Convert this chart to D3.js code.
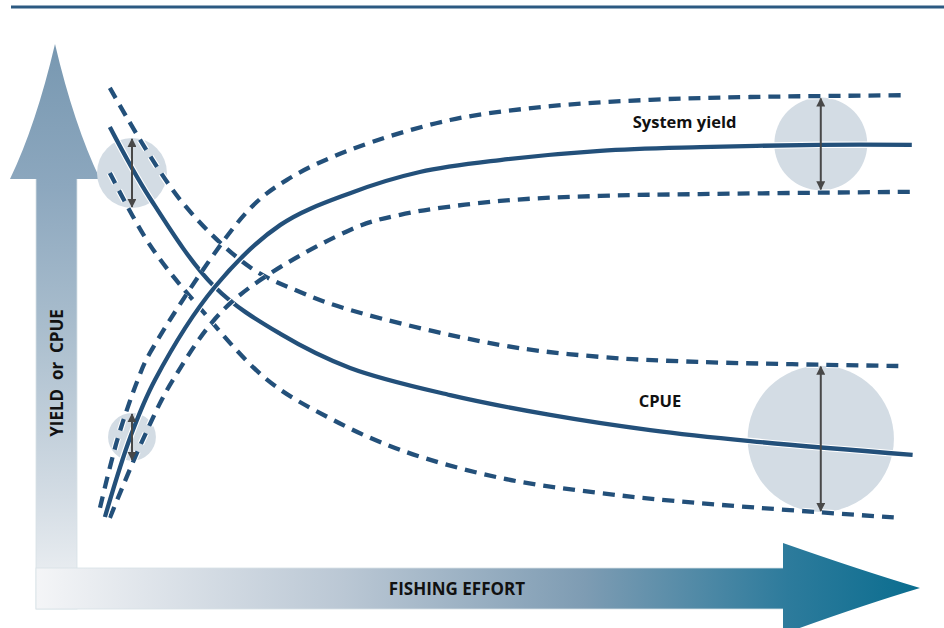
<!DOCTYPE html>
<html>
<head>
<meta charset="utf-8">
<script src="https://cdn.jsdelivr.net/npm/d3@7"></script>
<style>
  body { margin: 0; background: #fff; }
  text { font-family: "Open Sans", sans-serif; font-weight: 700; fill: #111; }
</style>
</head>
<body>
<div id="chart"></div>
<script>
// effort (0-100) , value (0-100)
var yieldUpper = [[0.0,7.0],[2.1,21.7],[4.6,34.8],[6.1,40.7],[17.9,71.3],[22.8,78.3],[30.5,84.8],[42.7,91.3],[54.9,94.3],[67.1,95.7],[79.3,96.3],[98.5,96.7]]
var yieldMid = [[0.6,5.0],[3.7,22.4],[6.7,34.8],[14.0,55.0],[22.0,68.5],[30.5,75.4],[39.0,80.0],[48.8,82.6],[61.0,84.6],[73.2,85.4],[87.8,85.9],[99.0,85.9]]
var yieldLower = [[1.2,4.8],[5.2,21.7],[8.9,34.8],[15.9,51.5],[30.5,67.4],[36.6,70.7],[48.8,73.7],[61.0,74.8],[73.2,75.2],[99.1,75.7]]
var cpueUpper = [[1.2,98.3],[9.8,73.9],[18.3,59.3],[24.4,53.9],[30.5,50.0],[48.8,42.4],[61.0,39.8],[73.2,38.7],[98.2,37.8]]
var cpueMid = [[1.2,89.8],[6.1,74.3],[14.0,55.0],[22.0,44.8],[30.5,37.4],[42.7,31.5],[54.9,27.2],[67.1,23.9],[79.3,21.5],[99.1,18.5]]
var cpueLower = [[1.2,79.8],[6.1,64.1],[12.2,50.4],[20.4,34.8],[28.0,26.5],[36.6,19.6],[48.8,13.5],[61.0,10.2],[73.2,8.0],[97.6,4.8]]

// variance circles: effort, value, half spread
var spreadPoints = [[3.9,79.8,7.6],[3.9,22.4,5.2],[87.9,86.1,10.1],[87.9,22.0,15.9]]

var curveLabels = [["System yield",71.3,89.5],["CPUE",68.3,29.0]]
var axisLabels = ["YIELD  or  CPUE", "FISHING EFFORT"]

var W = 944, H = 628
var lineColor = "#23507a"

var svg = d3.select("#chart").append("svg")
    .attr("width", W)
    .attr("height", H)

var x = d3.scaleLinear().domain([0, 100]).range([100, 920])
var y = d3.scaleLinear().domain([0, 100]).range([540, 80])

var defs = svg.append("defs")

var gx = defs.append("linearGradient").attr("id", "gx")
    .attr("gradientUnits", "userSpaceOnUse")
    .attr("x1", 36).attr("y1", 0).attr("x2", 920).attr("y2", 0)
gx.selectAll("stop")
    .data([[0,"#f4f5f7"],[0.35,"#bac7d4"],[0.62,"#7e9cb3"],[0.85,"#2d7b9c"],[1,"#0a6d8f"]])
    .enter().append("stop")
    .attr("offset", d => d[0]).attr("stop-color", d => d[1])

var gy = defs.append("linearGradient").attr("id", "gy")
    .attr("gradientUnits", "userSpaceOnUse")
    .attr("x1", 0).attr("y1", 44).attr("x2", 0).attr("y2", 609)
gy.selectAll("stop")
    .data([[0,"#7898b1"],[0.25,"#8ca7be"],[0.5,"#a9bdcd"],[0.8,"#d3dce4"],[1,"#f2f4f6"]])
    .enter().append("stop")
    .attr("offset", d => d[0]).attr("stop-color", d => d[1])

// top rule
svg.append("line")
    .attr("x1", 11).attr("x2", W).attr("y1", 7).attr("y2", 7)
    .attr("stroke", "#2c5a82").attr("stroke-width", 3)

// y axis arrow
svg.append("rect")
    .attr("x", 36).attr("y", 176).attr("width", 41).attr("height", 433)
    .attr("fill", "url(#gy)").attr("stroke", "#d8e0e7").attr("stroke-width", 0.8)
svg.append("path")
    .attr("d", "M10,179 Q36,125 55,44 Q74,125 100,179 Z")
    .attr("fill", "url(#gy)")

// x axis arrow
svg.append("rect")
    .attr("x", 36).attr("y", 568).attr("width", 752).attr("height", 41)
    .attr("fill", "url(#gx)").attr("stroke", "#d8e0e7").attr("stroke-width", 0.8)
svg.append("path")
    .attr("d", "M783,543 Q860,570 920,588 Q860,606 783,634 Z")
    .attr("fill", "url(#gx)")

svg.append("text")
    .attr("transform", "translate(63,373) rotate(-90)")
    .attr("text-anchor", "middle")
    .style("font-size", "17px")
    .style("white-space", "pre")
    .attr("xml:space", "preserve")
    .text(axisLabels[0])

svg.append("text")
    .attr("x", 457).attr("y", 595)
    .attr("text-anchor", "middle")
    .style("font-size", "17px")
    .text(axisLabels[1])

// circles behind curves
svg.append("g").selectAll("circle")
    .data(spreadPoints)
    .enter().append("circle")
    .attr("cx", d => x(d[0]))
    .attr("cy", d => y(d[1]))
    .attr("r", d => y(0) - y(d[2]))
    .attr("fill", "#d3dce4")

var line = d3.line()
    .x(d => x(d[0]))
    .y(d => y(d[1]))
    .curve(d3.curveCatmullRom.alpha(0.5))

var series = [
    [cpueUpper, true], [cpueLower, true], [cpueMid, false],
    [yieldUpper, true], [yieldLower, true], [yieldMid, false]
]

var curves = svg.append("g")
series.forEach(function(s) {
    curves.append("path")
        .datum(s[0])
        .attr("d", line)
        .attr("fill", "none")
        .attr("stroke", "#fff")
        .attr("stroke-width", 6.5)
        .attr("stroke-dasharray", s[1] ? "12,8" : null)
    curves.append("path")
        .datum(s[0])
        .attr("d", line)
        .attr("fill", "none")
        .attr("stroke", lineColor)
        .attr("stroke-width", 4.3)
        .attr("stroke-dasharray", s[1] ? "12,8" : null)
})

// double headed arrows
defs.append("marker").attr("id", "ah")
    .attr("viewBox", "0 0 10 10").attr("refX", 9).attr("refY", 5)
    .attr("markerWidth", 4.5).attr("markerHeight", 4.5)
    .attr("orient", "auto-start-reverse")
    .append("path").attr("d", "M0,0 L10,5 L0,10 Z").attr("fill", "#484848")

svg.append("g").selectAll("line")
    .data(spreadPoints)
    .enter().append("line")
    .attr("x1", d => x(d[0])).attr("x2", d => x(d[0]))
    .attr("y1", d => y(d[1] + d[2]) + 1)
    .attr("y2", d => y(d[1] - d[2]) - 1)
    .attr("stroke", "#484848")
    .attr("stroke-width", 2)
    .attr("marker-start", "url(#ah)")
    .attr("marker-end", "url(#ah)")

svg.append("g").selectAll("text")
    .data(curveLabels)
    .enter().append("text")
    .attr("x", d => x(d[1]))
    .attr("y", d => y(d[2]))
    .attr("text-anchor", "middle")
    .style("font-size", "16.5px")
    .text(d => d[0])
</script>
</body>
</html>
